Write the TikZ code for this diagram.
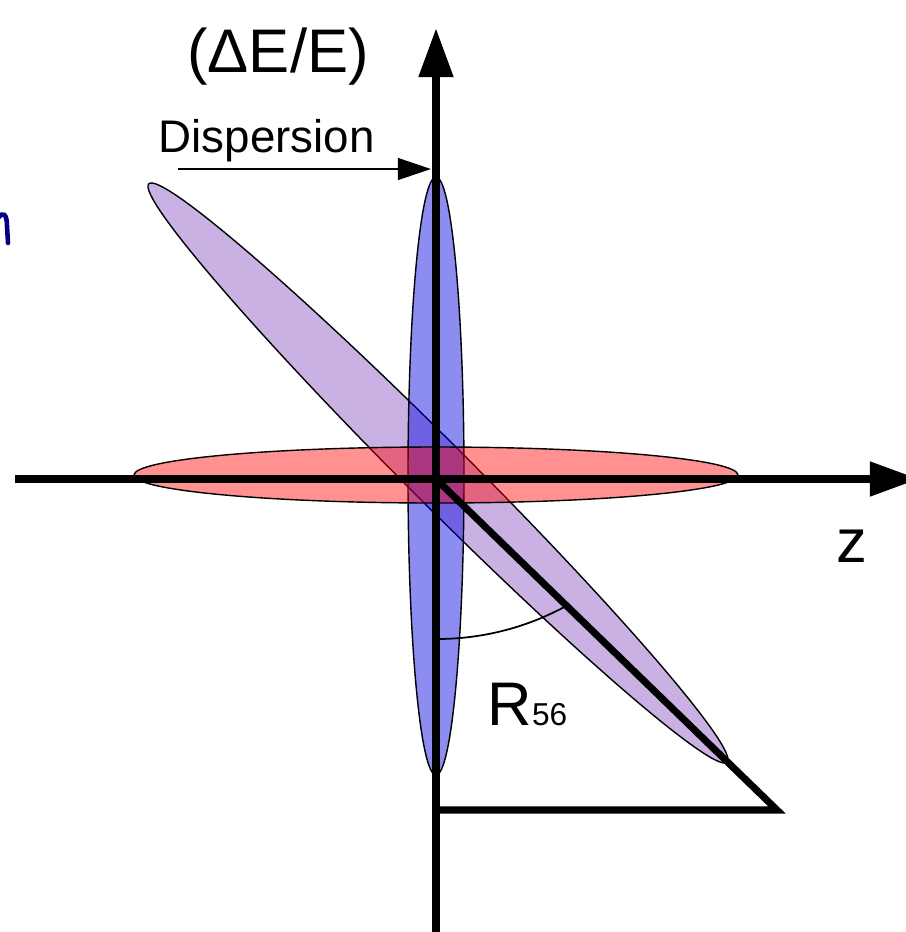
\documentclass[tikz,border=0pt]{standalone}
\usepackage{fontspec}
\setmainfont{Liberation Sans}
\usepackage{xcolor}
\usetikzlibrary{arrows.meta}
\definecolor{bunchred}{RGB}{255,0,0}
\definecolor{bunchblue}{RGB}{0,0,225}
\definecolor{bunchpurple}{RGB}{150,100,200}
\definecolor{penblue}{RGB}{0,0,128}

\begin{document}
\begin{tikzpicture}[x=0.01cm, y=-0.01cm, >={Triangle[length=14pt, width=9.4pt]},
  axis/.style={line width=2.3pt},
  bunch/.style={draw=black, line width=0.4pt, fill=#1},
  biglbl/.style={font=\fontsize{17.5}{20}\selectfont, inner sep=0pt}]
  \useasboundingbox (0,0) rectangle (906,932);
  \clip (0,0) rectangle (906,932);
  \coordinate (o) at (436,479);
  % the three bunches
  \draw[bunch=bunchpurple, fill opacity=0.5, rotate around={-45:(438,473)}]
    (438,473) ellipse [x radius=409, y radius=31];
  \draw[bunch=bunchblue, fill opacity=0.45] (436,476) ellipse [x radius=28, y radius=299];
  \draw[bunch=bunchred, fill opacity=0.43] (436,475) ellipse [x radius=302, y radius=28];
  \draw[line width=0.5pt] (437,639) arc[start angle=90, end angle=61, radius=269];
  % axes
  \draw[axis, ->] (15,479) -- (919,479);
  \draw[axis, ->] (436,945) -- (436,28);
  \draw[line width=2pt] (o) -- (777,810) -- (436,810);
  \coordinate (dtail) at (178,169);
  \coordinate (dtip) at (431,169);
  \draw[line width=0.5pt, -{Triangle[length=9.4pt, width=6.2pt]}] (dtail) -- (dtip);
  \draw[penblue, line width=1.3pt, line cap=round] (-2,218) .. controls (3,211) and (7,214) .. (7,226) -- (8,243);
  % labels
  \node[biglbl, anchor=base] (delbl) at (278,72) {(ΔE/E)};
  \node[font=\fontsize{13}{16}\selectfont, inner sep=0pt, anchor=base west] (displbl) at (158,152) {Dispersion};
  \node[biglbl, anchor=base] (zlbl) at (852,562) {z};
  \node[biglbl, anchor=base west] (rlbl) at (487,725) {R{\fontsize{9}{10}\selectfont 56}};
\end{tikzpicture}
\end{document}
